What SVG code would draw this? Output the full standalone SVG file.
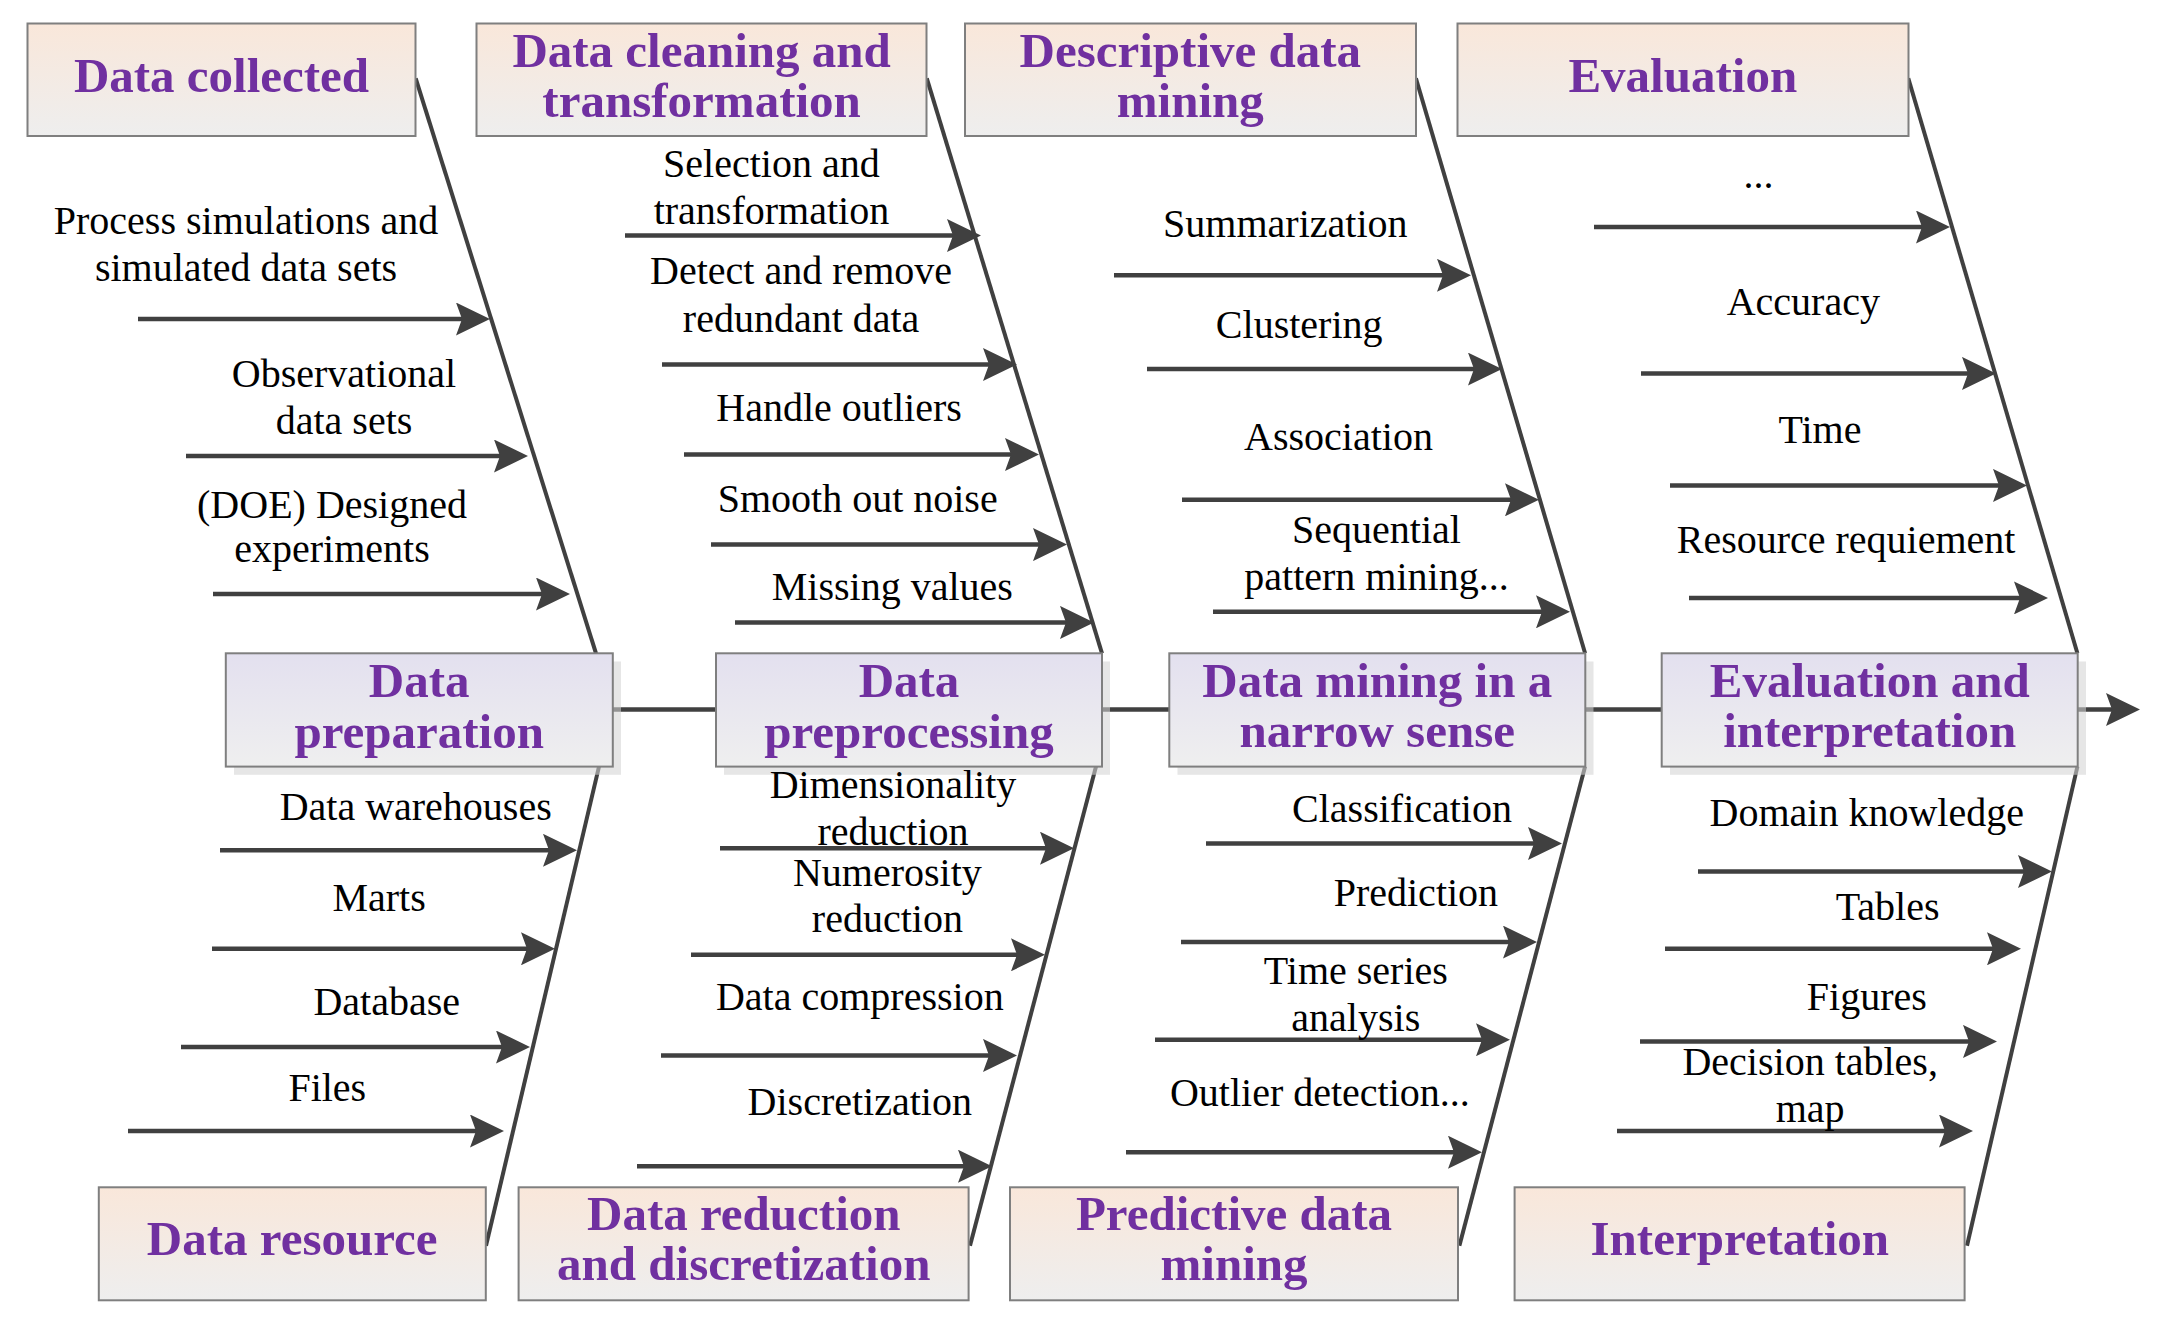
<svg xmlns="http://www.w3.org/2000/svg" width="2166" height="1326" viewBox="0 0 2166 1326">
<defs>
<linearGradient id="gTop" x1="0" y1="0" x2="0" y2="1"><stop offset="0" stop-color="#F9E7DA"/><stop offset="1" stop-color="#EEEEEE"/></linearGradient>
<linearGradient id="gMid" x1="0" y1="0" x2="0" y2="1"><stop offset="0" stop-color="#E3E0EF"/><stop offset="1" stop-color="#EFEFEF"/></linearGradient>
<marker id="ah" markerUnits="userSpaceOnUse" markerWidth="34" markerHeight="33" viewBox="0 0 34 33" refX="14" refY="16.5" orient="auto"><path d="M0,0 L34,16.5 L0,33 L6,16.5 Z" fill="#404040"/></marker>
</defs>
<style>
.box{stroke:#7F7F7F;stroke-width:2}
.top{fill:url(#gTop)}
.mid{fill:url(#gMid)}
.shadow{fill:#D3D3D3;fill-opacity:0.57}
.title{font-family:"Liberation Serif","Times New Roman",serif;font-weight:bold;font-size:49px;fill:#7030A0;text-anchor:middle}
.lbl{font-family:"Liberation Serif","Times New Roman",serif;font-size:40px;fill:#000;text-anchor:middle}
.spine{stroke:#404040;stroke-width:4;fill:none}
.arr{stroke:#404040;stroke-width:4.5;fill:none;marker-end:url(#ah)}
</style>
<rect width="2166" height="1326" fill="#FFFFFF"/>
<g id="connectors">
<path class="arr" d="M612,709.5 H2120"/>
<path class="spine" d="M415.7,78.3 L596,653.3"/>
<path class="spine" d="M926.8,78.3 L1102,653.3"/>
<path class="spine" d="M1415.9,78.3 L1585.1,653.3"/>
<path class="spine" d="M1908.3,78.3 L2077.4,653.3"/>
<path class="spine" d="M599,766.6 L486,1245.7"/>
<path class="spine" d="M1096,766.6 L970,1245.7"/>
<path class="spine" d="M1585.1,766.6 L1459.4,1245.7"/>
<path class="spine" d="M2077.4,766.6 L1967,1245.7"/>
<path class="arr" d="M138,319 H470"/>
<path class="arr" d="M186,456 H508"/>
<path class="arr" d="M213,594 H550"/>
<path class="arr" d="M625,235.5 H961"/>
<path class="arr" d="M662,364.5 H997"/>
<path class="arr" d="M684,454.5 H1019"/>
<path class="arr" d="M711,544.6 H1047"/>
<path class="arr" d="M735,622.4 H1074"/>
<path class="arr" d="M1114,275.3 H1451"/>
<path class="arr" d="M1147,369.1 H1482"/>
<path class="arr" d="M1182,499.8 H1519"/>
<path class="arr" d="M1213,611.8 H1550"/>
<path class="arr" d="M1594,227 H1930"/>
<path class="arr" d="M1641,373.4 H1976"/>
<path class="arr" d="M1670,485.4 H2007"/>
<path class="arr" d="M1689,597.9 H2028"/>
<path class="arr" d="M220,850.3 H557"/>
<path class="arr" d="M212,948.8 H535"/>
<path class="arr" d="M181,1047 H510"/>
<path class="arr" d="M128,1131 H484"/>
<path class="arr" d="M720,848.2 H1054"/>
<path class="arr" d="M691,954.8 H1025"/>
<path class="arr" d="M661,1055.4 H997"/>
<path class="arr" d="M637,1166.2 H972"/>
<path class="arr" d="M1206,843.5 H1542"/>
<path class="arr" d="M1181,942.1 H1517"/>
<path class="arr" d="M1155,1039.7 H1490"/>
<path class="arr" d="M1126,1152.2 H1462"/>
<path class="arr" d="M1698,871.5 H2032"/>
<path class="arr" d="M1665,948.8 H2001"/>
<path class="arr" d="M1640,1041.4 H1977"/>
<path class="arr" d="M1617,1131 H1953"/>
</g>
<g id="n-data-collected"><rect class="box top" x="27.5" y="23.5" width="388" height="112.5"/><text class="title" x="221.5" y="91.5">Data collected</text></g>
<g id="n-data-cleaning"><rect class="box top" x="476.5" y="23.5" width="450" height="112.5"/><text class="title" x="701.6" y="66.8">Data cleaning and<tspan x="701.6" dy="50.4">transformation</tspan></text></g>
<g id="n-descriptive"><rect class="box top" x="965" y="23.5" width="451" height="112.5"/><text class="title" x="1190.3" y="66.8">Descriptive data<tspan x="1190.3" dy="50.4">mining</tspan></text></g>
<g id="n-evaluation"><rect class="box top" x="1457.5" y="23.5" width="451" height="112.5"/><text class="title" x="1682.8" y="92">Evaluation</text></g>
<g id="n-data-preparation"><rect class="shadow" x="234" y="661.5" width="387" height="113.3"/><rect class="box mid" x="225.8" y="653.3" width="387" height="113.3"/><text class="title" x="419.2" y="696.8">Data<tspan x="419.2" dy="50.8">preparation</tspan></text></g>
<g id="n-data-preprocessing"><rect class="shadow" x="724" y="661.5" width="386" height="113.3"/><rect class="box mid" x="716" y="653.3" width="386" height="113.3"/><text class="title" x="909" y="696.8">Data<tspan x="909" dy="50.8">preprocessing</tspan></text></g>
<g id="n-data-mining"><rect class="shadow" x="1177.5" y="661.5" width="416" height="113.3"/><rect class="box mid" x="1169.3" y="653.3" width="416" height="113.3"/><text class="title" x="1377.3" y="696.8">Data mining in a<tspan x="1377.3" dy="50.2">narrow sense</tspan></text></g>
<g id="n-eval-interp"><rect class="shadow" x="1670" y="661.5" width="416" height="113.3"/><rect class="box mid" x="1661.7" y="653.3" width="416" height="113.3"/><text class="title" x="1869.7" y="696.8">Evaluation and<tspan x="1869.7" dy="50.2">interpretation</tspan></text></g>
<g id="n-data-resource"><rect class="box top" x="98.8" y="1187.3" width="387" height="113"/><text class="title" x="292.2" y="1255">Data resource</text></g>
<g id="n-data-reduction"><rect class="box top" x="518.6" y="1187.3" width="450" height="113"/><text class="title" x="743.8" y="1229.6">Data reduction<tspan x="743.8" dy="49.9">and discretization</tspan></text></g>
<g id="n-predictive"><rect class="box top" x="1010" y="1187.3" width="448" height="113"/><text class="title" x="1234" y="1229.6">Predictive data<tspan x="1234" dy="49.9">mining</tspan></text></g>
<g id="n-interpretation"><rect class="box top" x="1514.6" y="1187.3" width="450" height="113"/><text class="title" x="1739.8" y="1255">Interpretation</text></g>
<g id="labels-data-collected">
<text class="lbl" x="246" y="233.8">Process simulations and<tspan x="246" dy="47.4">simulated data sets</tspan></text>
<text class="lbl" x="344" y="386.9">Observational<tspan x="344" dy="47.3">data sets</tspan></text>
<text class="lbl" x="332" y="518">(DOE) Designed<tspan x="332" dy="44.4">experiments</tspan></text>
</g>
<g id="labels-data-cleaning">
<text class="lbl" x="771.4" y="176.7">Selection and<tspan x="771.4" dy="47.4">transformation</tspan></text>
<text class="lbl" x="801.1" y="284.1">Detect and remove<tspan x="801.1" dy="47.8">redundant data</tspan></text>
<text class="lbl" x="839.1" y="420.7">Handle outliers</text>
<text class="lbl" x="857.7" y="511.6">Smooth out noise</text>
<text class="lbl" x="892.3" y="599.6">Missing values</text>
</g>
<g id="labels-descriptive">
<text class="lbl" x="1285.3" y="236.8">Summarization</text>
<text class="lbl" x="1299.2" y="338.3">Clustering</text>
<text class="lbl" x="1338.5" y="450.3">Association</text>
<text class="lbl" x="1376.5" y="542.5">Sequential<tspan x="1376.5" dy="47.4">pattern mining...</tspan></text>
</g>
<g id="labels-evaluation">
<text class="lbl" x="1758.4" y="188.2">...</text>
<text class="lbl" x="1803.3" y="315">Accuracy</text>
<text class="lbl" x="1819.9" y="442.7">Time</text>
<text class="lbl" x="1846.1" y="552.6">Resource requiement</text>
</g>
<g id="labels-data-resource">
<text class="lbl" x="415.7" y="820.3">Data warehouses</text>
<text class="lbl" x="379.1" y="911.2">Marts</text>
<text class="lbl" x="386.7" y="1014.8">Database</text>
<text class="lbl" x="327.3" y="1100.6">Files</text>
</g>
<g id="labels-data-reduction">
<text class="lbl" x="893" y="797.5">Dimensionality<tspan x="893" dy="47.3">reduction</tspan></text>
<text class="lbl" x="887.4" y="885.8">Numerosity<tspan x="887.4" dy="46.5">reduction</tspan></text>
<text class="lbl" x="859.8" y="1009.7">Data compression</text>
<text class="lbl" x="859.8" y="1114.6">Discretization</text>
</g>
<g id="labels-predictive">
<text class="lbl" x="1402" y="821.6">Classification</text>
<text class="lbl" x="1415.9" y="906.1">Prediction</text>
<text class="lbl" x="1355.8" y="984.4">Time series<tspan x="1355.8" dy="46.5">analysis</tspan></text>
<text class="lbl" x="1319.9" y="1106.1">Outlier detection...</text>
</g>
<g id="labels-interpretation">
<text class="lbl" x="1866.8" y="825.8">Domain knowledge</text>
<text class="lbl" x="1887.6" y="919.7">Tables</text>
<text class="lbl" x="1866.8" y="1009.7">Figures</text>
<text class="lbl" x="1810.2" y="1075.3">Decision tables,<tspan x="1810.2" dy="46.5">map</tspan></text>
</g>
</svg>
